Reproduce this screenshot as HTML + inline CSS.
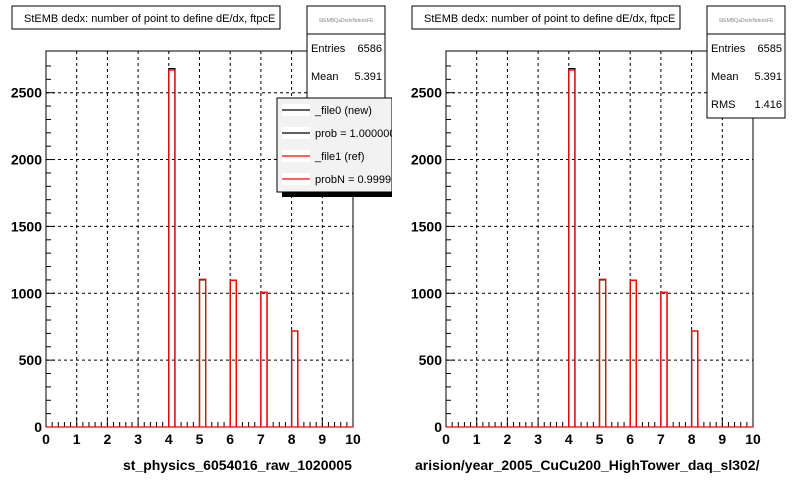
<!DOCTYPE html>
<html><head><meta charset="utf-8"><style>
body{margin:0;background:#fff;}
svg{display:block;font-family:"Liberation Sans",Arial,sans-serif;}
</style></head>
<body>
<svg id="c" width="800" height="480" viewBox="0 0 800 480"></svg>
<script>
const categories=[4,5,6,7,8];
const newValues=[2680,1100,1097,1007,718];
const refValues=[2670,1105,1097,1007,718];
const xTicks=[0,1,2,3,4,5,6,7,8,9,10];
const yTicks=[0,500,1000,1500,2000,2500];
const entries=["6586","6585"];
const means=["5.391","5.391"];
const rmsVal="1.416";
const xTitles=["st_physics_6054016_raw_1020005","arision/year_2005_CuCu200_HighTower_daq_sl302/"];

const NS="http://www.w3.org/2000/svg";
const svg=document.getElementById('c');
function mk(tag,attrs,parent,text){const e=document.createElementNS(NS,tag);for(const k in attrs)e.setAttribute(k,attrs[k]);if(text!==undefined)e.textContent=text;(parent||svg).appendChild(e);return e;}

function panel(ox,idx){
  const g=mk('g',{transform:`translate(${ox},0)`});
  
  
  const L=46,R=353,T=51,B=427;
  const xs=v=>L+(R-L)*v/10;
  const ys=v=>B-(B-92.7)*v/2500;
  // frame
  const fr=mk('rect',{x:L,y:T,width:R-L,height:B-T,fill:'#fff',stroke:'#000','stroke-width':1},g);
  
  
  // grid
  xTicks.forEach(t=>{if(t>0&&t<10){const l=mk('line',{x1:xs(t),x2:xs(t),y1:T,y2:B,stroke:'#000','stroke-dasharray':'3,3'},g);
    
    }});
  yTicks.forEach(t=>{if(t>0){const l=mk('line',{x1:L,x2:R,y1:ys(t),y2:ys(t),stroke:'#000','stroke-dasharray':'3,3'},g);
    
    }});
  // ticks
  for(let v=0;v<=10.001;v+=0.2){const maj=Math.abs(v-Math.round(v))<0.01;mk('line',{x1:xs(v),x2:xs(v),y1:B,y2:B-(maj?9:5),stroke:'#000'},g);}
  for(let v=0;v<=2750;v+=100){const maj=v%500===0;mk('line',{x1:L,x2:L+(maj?9:5),y1:ys(v),y2:ys(v),stroke:'#000'},g);}
  // labels
  xTicks.forEach(t=>{const tx=mk('text',{x:xs(t),y:444,'font-size':14,'font-weight':'bold','text-anchor':'middle'},g,String(t));
    
    });
  yTicks.forEach(t=>{const tx=mk('text',{x:42,y:ys(t)+5,'font-size':14,'font-weight':'bold','text-anchor':'end'},g,String(t));
    
    });
  const xt=mk('text',{x:idx?15:123,y:470,'font-size':14,'font-weight':'bold'},g,xTitles[idx]);
  
  
  // bars
  function bars(vals,col,name){categories.forEach((c,i)=>{const x0=xs(c),x1=xs(c+0.2),y=ys(vals[i]);
    const p=mk('path',{d:`M${x0},${B} L${x0},${y} L${x1},${y} L${x1},${B}`,fill:'none',stroke:col,'stroke-width':1.3},g);
    
    });}
  bars(newValues,'#000','new');
  bars(refValues,'#f00','ref');
  mk('line',{x1:L,x2:R,y1:B,y2:B,stroke:'#f00','stroke-width':1.3},g);
  // title box
  const tb=mk('rect',{x:12,y:6,width:268,height:23,fill:'#fff',stroke:'#000'},g);
  
  
  const tt=mk('text',{x:24,y:22,'font-size':11},g,'StEMB dedx: number of point to define dE/dx, ftpcE');
  
  
  // stats box
  const sh=idx?112:92;
  const sb=mk('rect',{x:307,y:6,width:78,height:sh,fill:'#fff',stroke:'#000'},g);
  
  
  mk('line',{x1:307,x2:385,y1:34,y2:34,stroke:'#000'},g);
  mk('text',{x:346,y:22,'font-size':5,fill:'#888','text-anchor':'middle'},g,'StEMBQaDedxNdedxFE');
  mk('text',{x:311,y:52,'font-size':11},g,'Entries');
  mk('text',{x:382,y:52,'font-size':11,'text-anchor':'end'},g,entries[idx]);
  mk('text',{x:311,y:80,'font-size':11},g,'Mean');
  mk('text',{x:382,y:80,'font-size':11,'text-anchor':'end'},g,means[idx]);
  if(idx){mk('text',{x:311,y:108,'font-size':11},g,'RMS');
    mk('text',{x:382,y:108,'font-size':11,'text-anchor':'end'},g,rmsVal);}
  return g;
}
panel(0,0);
panel(400,1);
// legend on left panel
const lg=mk('g',{});


mk('rect',{x:282,y:192,width:110,height:5,fill:'#000'},lg);
mk('rect',{x:277,y:98,width:115,height:94,fill:'#f2f2f2',stroke:'#000'},lg);
const items=[['_file0 (new)','#000'],['prob = 1.000000','#000'],['_file1 (ref)','#f00'],['probN = 0.99997','#f00']];
items.forEach((it,i)=>{const y=110+i*23;
  const e=mk('g',{},lg);
  
  
  mk('rect',{x:282,y:y-6,width:28,height:12,fill:'#fff'},e);
  mk('line',{x1:282,x2:310,y1:y,y2:y,stroke:it[1],'stroke-width':1.3},e);
  mk('text',{x:315,y:y+4,'font-size':11},e,it[0]);});
mk('rect',{x:392,y:90,width:8,height:110,fill:'#fff'},lg);
</script>
</body></html>
